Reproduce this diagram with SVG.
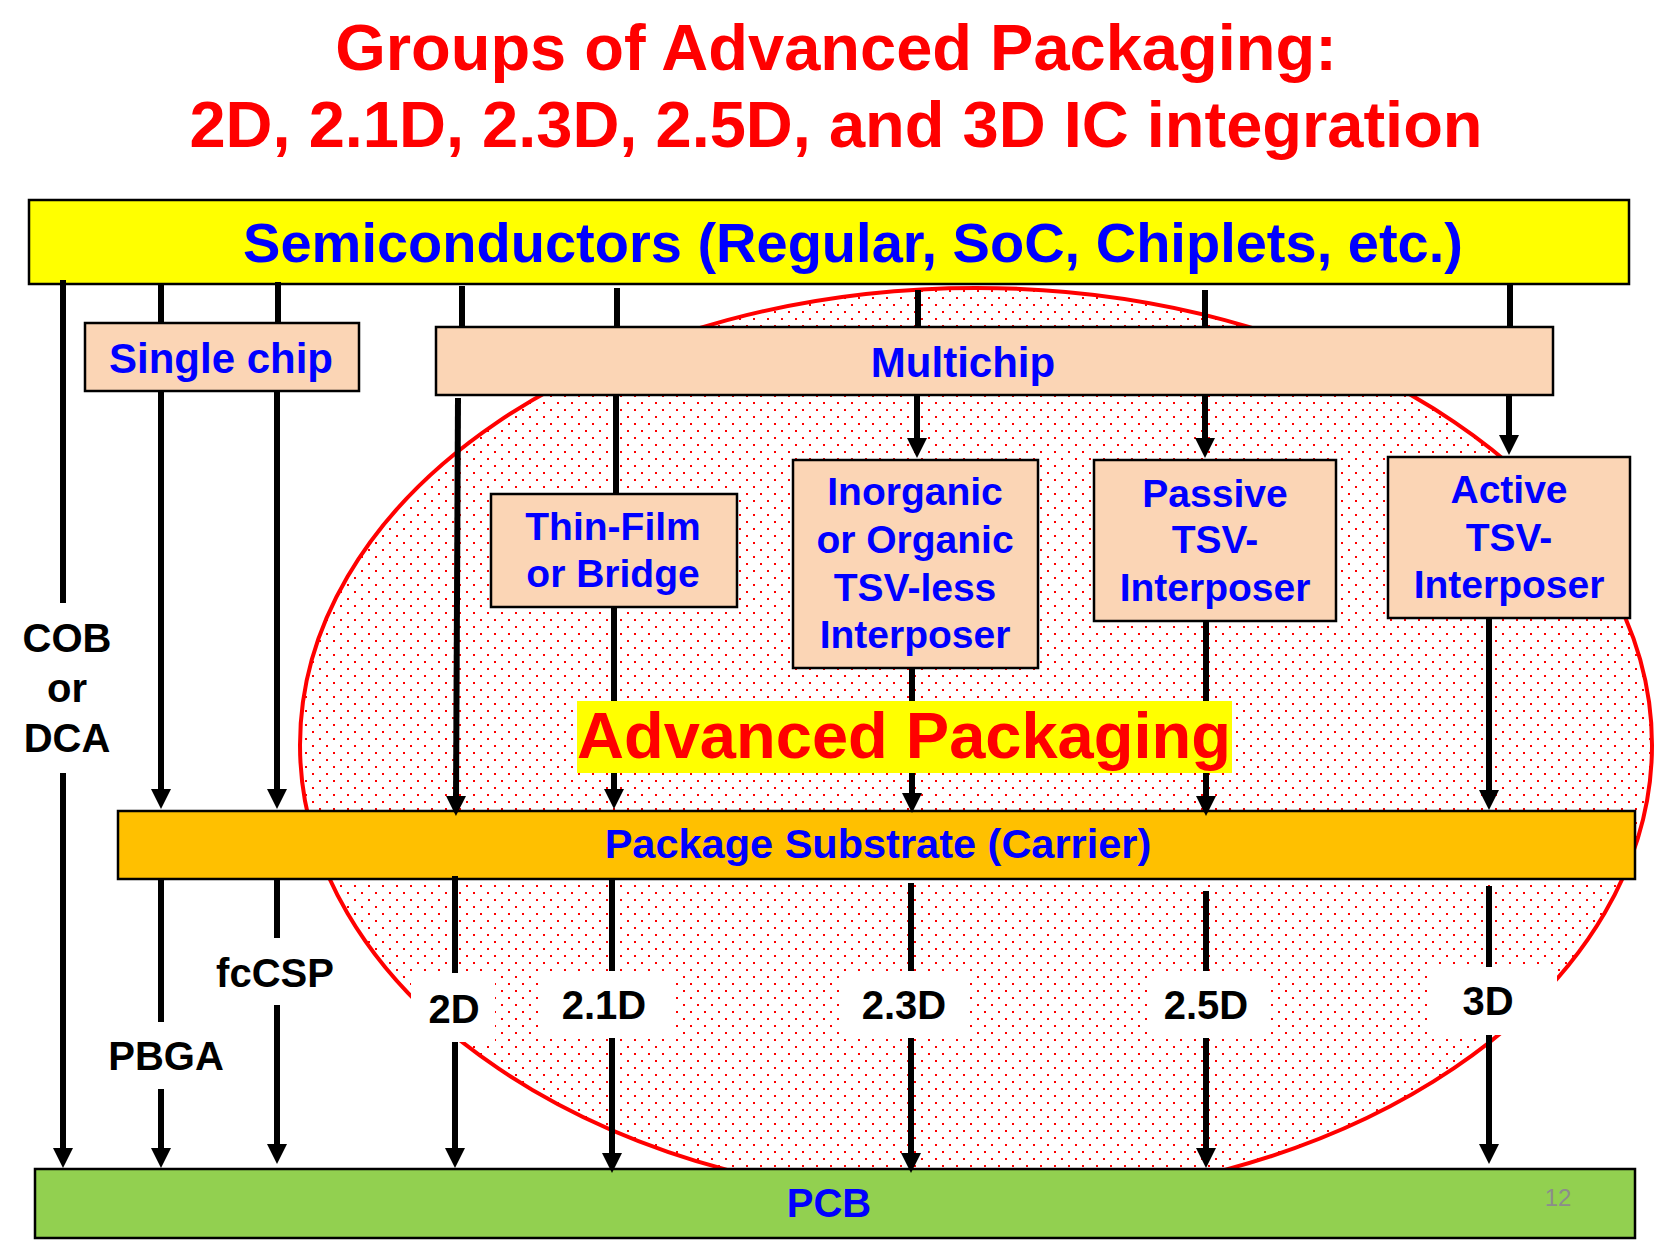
<svg xmlns="http://www.w3.org/2000/svg" width="1673" height="1252" viewBox="0 0 1673 1252">
<defs>
<pattern id="dots" patternUnits="userSpaceOnUse" x="0" y="0" width="14" height="14">
<rect width="14" height="14" fill="#FFFFFF"/>
<rect x="4" y="3" width="2" height="2" fill="#FF0000"/>
<rect x="11" y="10" width="2" height="2" fill="#FF0000"/>
</pattern>
<marker id="ah" viewBox="0 0 20 20" refX="5" refY="10" markerWidth="20" markerHeight="20" markerUnits="userSpaceOnUse" orient="auto">
<path d="M0,0 L20,10 L0,20 z" fill="#000000"/>
</marker>
<style>
.t{font-family:"Liberation Sans",Arial,sans-serif;font-weight:bold;text-anchor:middle}
.title{font-size:65px;fill:#FF0000}
.blue{fill:#0000FF}
.lbl{font-size:40px;fill:#000000}
.box{stroke:#000000;stroke-width:2.5}
.peach{fill:#FBD5B5}
.c{stroke:#000000;stroke-width:6;fill:none}
.a{stroke:#000000;stroke-width:6;fill:none;marker-end:url(#ah)}
.wb{fill:#FFFFFF}
</style>
</defs>
<rect width="1673" height="1252" fill="#FFFFFF"/>

<g id="advanced-packaging-region">
<ellipse cx="976" cy="745" rx="676" ry="457" fill="url(#dots)" stroke="#FF0000" stroke-width="4"/>
</g>

<g id="title">
<text class="t title" x="836" y="70">Groups of Advanced Packaging:</text>
<text class="t title" x="836" y="147">2D, 2.1D, 2.3D, 2.5D, and 3D IC integration</text>
</g>

<g id="semiconductors">
<rect class="box" x="29" y="200" width="1600" height="84" fill="#FFFF00"/>
<text class="t blue" x="853" y="262" font-size="56">Semiconductors (Regular, SoC, Chiplets, etc.)</text>
</g>

<g id="single-chip">
<rect class="box peach" x="85" y="323" width="274" height="68"/>
<text class="t blue" x="221" y="373" font-size="42">Single chip</text>
</g>

<g id="multichip">
<rect class="box peach" x="436" y="327" width="1117" height="68"/>
<text class="t blue" x="963" y="377" font-size="42">Multichip</text>
</g>

<g id="thin-film">
<rect class="box peach" x="491" y="494" width="246" height="113"/>
<text class="t blue" font-size="39"><tspan x="613" y="540">Thin-Film</tspan><tspan x="613" y="587">or Bridge</tspan></text>
</g>

<g id="tsv-less">
<rect class="box peach" x="793" y="460" width="245" height="208"/>
<text class="t blue" font-size="39"><tspan x="915" y="505">Inorganic</tspan><tspan x="915" y="553">or Organic</tspan><tspan x="915" y="601">TSV-less</tspan><tspan x="915" y="648">Interposer</tspan></text>
</g>

<g id="passive-tsv">
<rect class="box peach" x="1094" y="460" width="242" height="161"/>
<text class="t blue" font-size="39"><tspan x="1215" y="507">Passive</tspan><tspan x="1215" y="553">TSV-</tspan><tspan x="1215" y="601">Interposer</tspan></text>
</g>

<g id="active-tsv">
<rect class="box peach" x="1388" y="457" width="242" height="161"/>
<text class="t blue" font-size="39"><tspan x="1509" y="503">Active</tspan><tspan x="1509" y="551">TSV-</tspan><tspan x="1509" y="598">Interposer</tspan></text>
</g>

<g id="package-substrate">
<rect class="box" x="118" y="811" width="1517" height="68" fill="#FFC000"/>
<text class="t blue" x="878" y="858" font-size="41.5">Package Substrate (Carrier)</text>
</g>

<g id="pcb">
<rect class="box" x="35" y="1169" width="1600" height="69" fill="#92D050"/>
<text class="t blue" x="829" y="1217" font-size="40">PCB</text>
<text x="1558" y="1206" font-family="'Liberation Sans',Arial,sans-serif" font-size="24" fill="#8C8C8C" text-anchor="middle">12</text>
</g>

<g id="connectors">
<!-- COB / DCA -->
<line class="c" x1="63" y1="280" x2="63" y2="603"/>
<line class="a" x1="63" y1="773" x2="63" y2="1153"/>
<!-- PBGA -->
<line class="c" x1="161" y1="284" x2="161" y2="323"/>
<line class="a" x1="161" y1="391" x2="161" y2="794"/>
<line class="c" x1="161" y1="879" x2="161" y2="1022"/>
<line class="a" x1="161" y1="1089" x2="161" y2="1153"/>
<!-- fcCSP -->
<line class="c" x1="278" y1="282" x2="278" y2="323"/>
<line class="a" x1="277" y1="391" x2="277" y2="794"/>
<line class="c" x1="277" y1="879" x2="277" y2="938"/>
<line class="a" x1="277" y1="1005" x2="277" y2="1149"/>
<!-- 2D -->
<line class="c" x1="462" y1="286" x2="462" y2="327"/>
<line class="a" x1="458" y1="398" x2="456" y2="801"/>
<line class="c" x1="455" y1="876" x2="455" y2="973"/>
<line class="a" x1="455" y1="1042" x2="455" y2="1153"/>
<!-- 2.1D -->
<line class="c" x1="617" y1="288" x2="617" y2="327"/>
<line class="c" x1="616" y1="395" x2="616" y2="494"/>
<line class="a" x1="614" y1="607" x2="614" y2="794"/>
<line class="c" x1="612" y1="879" x2="612" y2="971"/>
<line class="a" x1="612" y1="1038" x2="612" y2="1158"/>
<!-- 2.3D -->
<line class="c" x1="918" y1="290" x2="918" y2="327"/>
<line class="a" x1="917" y1="395" x2="917" y2="443"/>
<line class="a" x1="912" y1="668" x2="912" y2="798"/>
<line class="c" x1="911" y1="883" x2="911" y2="971"/>
<line class="a" x1="911" y1="1038" x2="911" y2="1158"/>
<!-- 2.5D -->
<line class="c" x1="1205" y1="290" x2="1205" y2="327"/>
<line class="a" x1="1205" y1="395" x2="1205" y2="443"/>
<line class="a" x1="1206" y1="621" x2="1206" y2="801"/>
<line class="c" x1="1206" y1="891" x2="1206" y2="971"/>
<line class="a" x1="1206" y1="1038" x2="1206" y2="1153"/>
<!-- 3D -->
<line class="c" x1="1510" y1="284" x2="1510" y2="327"/>
<line class="a" x1="1509" y1="395" x2="1509" y2="440"/>
<line class="a" x1="1489" y1="618" x2="1489" y2="795"/>
<line class="c" x1="1489" y1="886" x2="1489" y2="967"/>
<line class="a" x1="1489" y1="1035" x2="1489" y2="1149"/>
</g>

<g id="connector-labels">
<text class="t lbl"><tspan x="67" y="652">COB</tspan><tspan x="67" y="702">or</tspan><tspan x="67" y="752">DCA</tspan></text>
<text class="t lbl" x="166" y="1070">PBGA</text>
<text class="t lbl" x="275" y="987">fcCSP</text>
<rect class="wb" x="411" y="974" width="84" height="68"/>
<text class="t lbl" x="454" y="1023">2D</text>
<rect class="wb" x="542" y="972" width="130" height="66"/>
<text class="t lbl" x="604" y="1019">2.1D</text>
<rect class="wb" x="840" y="972" width="130" height="66"/>
<text class="t lbl" x="904" y="1019">2.3D</text>
<rect class="wb" x="1147" y="972" width="124" height="66"/>
<text class="t lbl" x="1206" y="1019">2.5D</text>
<rect class="wb" x="1430" y="967" width="127" height="68"/>
<text class="t lbl" x="1488" y="1015">3D</text>
</g>

<g id="advanced-packaging-label">
<rect x="577" y="701" width="655" height="72" fill="#FFFF00"/>
<text class="t" x="904" y="758" font-size="65" fill="#FF0000">Advanced Packaging</text>
</g>
</svg>
